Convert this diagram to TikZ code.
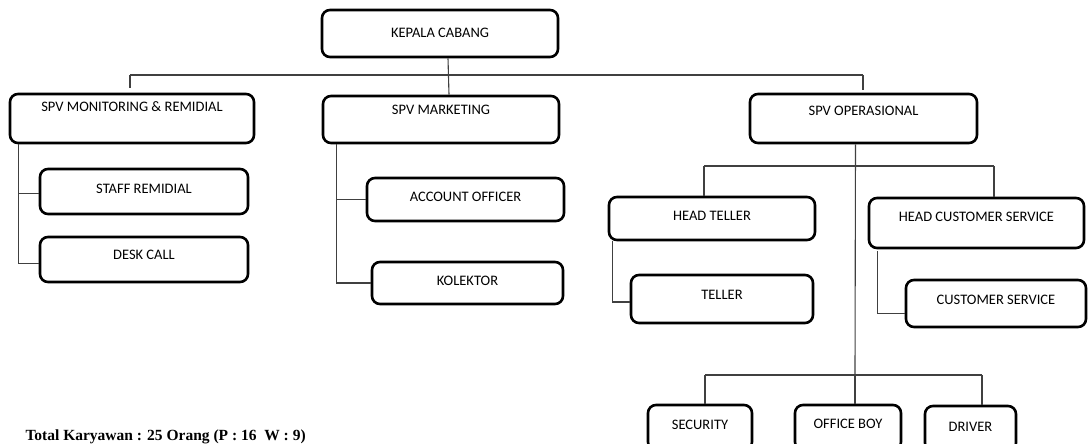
\documentclass[tikz,border=0pt]{standalone}
\usepackage{fontspec}
\setmainfont{Carlito}
\newfontfamily\reportfont{Liberation Serif}
\tikzset{
  orgbox/.style={draw, line width=2.6pt, rounded corners=8pt, inner sep=0pt,
    font=\fontsize{14.5}{17}\selectfont},
  boxsize/.style n args={3}{minimum width=#1pt, text height=#2pt, text depth=#3pt},
  link/.style={draw=black!75, line width=1.1pt}
}
\begin{document}
\begin{tikzpicture}[x=1pt, y=-1pt]
\useasboundingbox (0,0) rectangle (1088,444);
\clip (0,0) rectangle (1088,444);
\node[orgbox, boxsize={236}{27.7}{19.3}] (kepala) at (440,33.5) {KEPALA CABANG};
\node[orgbox, boxsize={244}{17.7}{31.3}] (spvmon) at (132,118.5) {SPV MONITORING \& REMIDIAL};
\node[orgbox, boxsize={236}{18.7}{28.3}] (spvmkt) at (441,119.5) {SPV MARKETING};
\node[orgbox, boxsize={227}{21.7}{27.3}] (spvops) at (863.5,118.5) {SPV OPERASIONAL};
\node[orgbox, boxsize={208}{24.7}{20.3}] (staff) at (144,191.5) {STAFF REMIDIAL};
\node[orgbox, boxsize={208}{22.7}{22.3}] (desk) at (144,259.5) {DESK CALL};
\node[orgbox, boxsize={197}{23.7}{19.3}] (acct) at (465.5,199.5) {ACCOUNT OFFICER};
\node[orgbox, boxsize={191}{23.7}{18.3}] (kolektor) at (467.5,283) {KOLEKTOR};
\node[orgbox, boxsize={206}{23.7}{19.3}] (headteller) at (712,218.5) {HEAD TELLER};
\node[orgbox, boxsize={215}{23.7}{26.3}] (headcs) at (976.5,223) {HEAD CUSTOMER SERVICE};
\node[orgbox, boxsize={182}{24.7}{23.3}] (teller) at (722,299) {TELLER};
\node[orgbox, boxsize={180}{24.7}{22.3}] (cs) at (996,303.5) {CUSTOMER SERVICE};
\node[orgbox, boxsize={104}{24.7}{20.3}] (security) at (700,427.5) {SECURITY};
\node[orgbox, boxsize={106}{23.7}{21.3}] (officeboy) at (848,427.5) {OFFICE BOY};
\node[orgbox, boxsize={91}{25.7}{19.3}] (driver) at (970.5,428.5) {DRIVER};
\node[anchor=base west, font=\reportfont\bfseries\fontsize{15.5}{18}\selectfont] (total) at (22,440) {Total Karyawan : 25 Orang (P : 16~~W : 9)};
% top level
\coordinate (busL) at (130,75);
\coordinate (busR) at (863,75);
\draw[link] ([xshift=8pt]kepala.south) -- ([xshift=8pt]spvmkt.north);
\draw[link] (busL) -- (busR);
\draw[link] (busL) -- ++(0,13);
\draw[link] (busR) -- ++(0,15);
% monitoring & marketing
\draw[link] ([xshift=10pt]spvmon.south west) |- ([yshift=-4pt]desk.west);
\draw[link] ([xshift=10pt,yshift=-2pt]spvmon.south west |- staff.west) -- ([yshift=-2pt]staff.west);
\draw[link] ([xshift=15pt]spvmkt.south west) |- (kolektor.west);
\draw[link] ([xshift=15pt]spvmkt.south west |- acct.west) -- (acct.west);
% operasional
\coordinate (htj) at (704,166);
\coordinate (hcj) at (994,166);
\coordinate (lowbus) at (855,375);
\coordinate (sj) at (705,375);
\coordinate (dj) at (982,375);
\draw[link] ([xshift=-8pt]spvops.south) -- (lowbus);
\draw[link] (htj) -- (hcj);
\draw[link] (htj) -- (htj |- headteller.north);
\draw[link] (hcj) -- (hcj |- headcs.north);
\draw[link] ([xshift=5pt]headteller.south west) |- ([yshift=-3pt]teller.west);
\draw[link] ([xshift=10pt,yshift=-2pt]headcs.south west) |- ([yshift=-10pt]cs.west);
\draw[link] (sj) -- (dj);
\draw[link] (sj) -- (sj |- security.north);
\draw[link] (lowbus) -- (lowbus |- officeboy.north);
\draw[link] (dj) -- (dj |- driver.north);
\end{tikzpicture}
\end{document}
